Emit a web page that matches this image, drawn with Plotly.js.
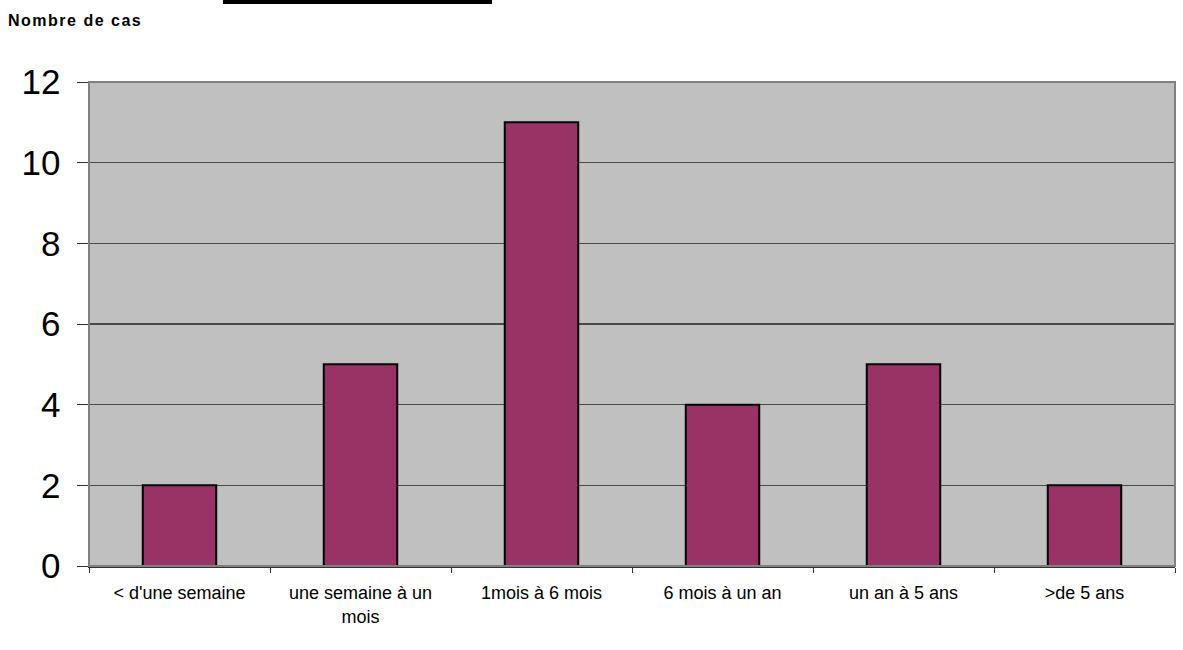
<!DOCTYPE html>
<html>
<head>
<meta charset="utf-8">
<script src="https://cdn.plot.ly/plotly-3.0.1.min.js"></script>
<style>
  html, body { margin: 0; padding: 0; background: #ffffff; }
  #chart { width: 1183px; height: 650px; position: relative; }
  #ytitle {
    position: absolute; left: 8px; top: 12px;
    font-family: "Liberation Sans", Arial, sans-serif;
    font-weight: bold; font-size: 16px; color: #000;
    letter-spacing: 1.5px;
  }
</style>
</head>
<body>
<div id="chart"></div>
<script>
// Durée d'évolution : nombre de cas par tranche
const categories = [
  "&lt; d'une semaine",
  "une semaine à un<br>mois",
  "1mois à 6 mois",
  "6 mois à un an",
  "un an à 5 ans",
  "&gt;de 5 ans"
];
const cases = [2, 5, 11, 4, 5, 2];
const yTickValues = [0, 2, 4, 6, 8, 10, 12];
const yTickLabels = ["0", "2", "4", "6", "8", "10", "12"];

const FONT = '"Liberation Sans", Arial, sans-serif';

const trace = {
  type: 'bar',
  x: categories,
  y: cases,
  marker: {
    color: '#993366',
    line: { color: '#000000', width: 2 }
  },
  hoverinfo: 'x+y'
};

const layout = {
  width: 1183,
  height: 650,
  margin: { l: 89, r: 8, t: 82, b: 84 },
  paper_bgcolor: '#ffffff',
  plot_bgcolor: '#c0c0c0',
  showlegend: false,
  bargap: 0.594,
  font: { family: FONT, color: '#000000' },
  xaxis: {
    type: 'category',
    tickson: 'boundaries',
    ticks: 'outside',
    ticklen: 5,
    tickwidth: 1,
    tickcolor: '#333333',
    showline: true,
    linecolor: '#333333',
    linewidth: 1.5,
    showgrid: false,
    zeroline: false,
    tickfont: { family: FONT, size: 18, color: '#000000' },
    ticklabelstandoff: 10,
    fixedrange: true
  },
  yaxis: {
    range: [0, 12],
    tickmode: 'array',
    tickvals: yTickValues,
    ticktext: yTickLabels,
    ticks: 'outside',
    ticklen: 11,
    tickwidth: 1,
    tickcolor: '#333333',
    showline: true,
    linecolor: '#333333',
    linewidth: 1.5,
    showgrid: true,
    gridcolor: '#4a4a4a',
    gridwidth: 1.2,
    zeroline: false,
    tickfont: { family: FONT, size: 35, color: '#000000' },
    ticklabelstandoff: 9,
    fixedrange: true
  },
  shapes: [
    // plot frame: top and right edges
    {
      type: 'rect', xref: 'paper', yref: 'paper',
      x0: 0, x1: 1, y0: 0, y1: 1,
      line: { color: '#808080', width: 2 },
      fillcolor: 'rgba(0,0,0,0)',
      layer: 'above'
    },
    // black band at the top of the page
    {
      type: 'rect', xref: 'paper', yref: 'paper',
      x0: 0.1234, x1: 0.3711, y0: 1.1612, y1: 1.175,
      line: { width: 0 },
      fillcolor: '#000000',
      layer: 'above'
    }
  ]
};

Plotly.newPlot('chart', [trace], layout, { displayModeBar: false, staticPlot: true }).then(function () {
  const t = document.createElement('div');
  t.id = 'ytitle';
  t.textContent = 'Nombre de cas';
  document.getElementById('chart').appendChild(t);
});
</script>
</body>
</html>
